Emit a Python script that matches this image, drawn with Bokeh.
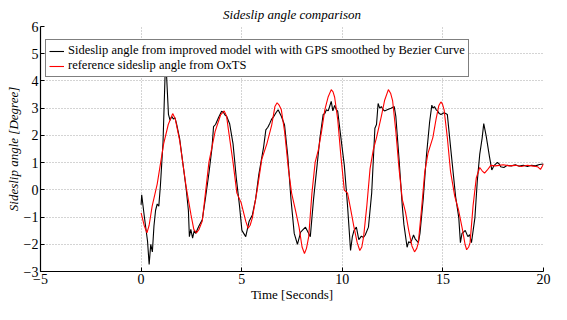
from bokeh.plotting import figure
from bokeh.models import Range1d, Legend, LegendItem, FixedTicker
from bokeh.embed import file_html
from bokeh.resources import INLINE

# ---- data ----
title_text = "Sideslip angle comparison"
x_label = "Time [Seconds]"
y_label = "Sideslip angle [Degree]"
series_names = ["Sideslip angle from improved model with with GPS smoothed by Bezier Curve",
                "reference sideslip angle from OxTS"]
x_ticks = [-5, 0, 5, 10, 15, 20]
y_ticks = [-3, -2, -1, 0, 1, 2, 3, 4, 5, 6]

black_t = [0.0, 0.03, 0.16, 0.32, 0.40, 0.48, 0.56, 0.64, 0.72, 0.80, 0.88, 0.96, 1.09, 1.22,
           1.36, 1.44, 1.52, 1.60, 1.68, 1.76, 1.92, 2.08, 2.24, 2.35, 2.40, 2.47, 2.56, 2.64,
           2.72, 2.80, 2.88, 3.04, 3.20, 3.37, 3.52, 3.60, 3.70, 3.85, 4.00, 4.09, 4.17, 4.25,
           4.40, 4.57, 4.73, 4.89, 5.01, 5.10, 5.20, 5.37, 5.53, 5.69, 5.85, 6.09, 6.20, 6.30,
           6.40, 6.49, 6.60, 6.72, 6.81, 6.97, 7.13, 7.29, 7.45, 7.61, 7.77, 7.93, 8.00, 8.17,
           8.33, 8.41, 8.57, 8.73, 8.89, 9.05, 9.13, 9.21, 9.30, 9.37, 9.45, 9.53, 9.62, 9.70,
           9.77, 9.93, 10.10, 10.26, 10.41, 10.50, 10.58, 10.70, 10.82, 10.95, 11.05, 11.14,
           11.30, 11.46, 11.62, 11.70, 11.78, 11.86, 11.94, 12.02, 12.10, 12.26, 12.42, 12.58,
           12.66, 12.82, 12.98, 13.06, 13.22, 13.30, 13.38, 13.46, 13.54, 13.62, 13.78, 13.86,
           14.02, 14.18, 14.34, 14.45, 14.50, 14.58, 14.66, 14.74, 14.82, 14.90, 15.06, 15.14,
           15.22, 15.38, 15.63, 15.79, 15.87, 15.95, 16.03, 16.11, 16.24, 16.33, 16.42, 16.59,
           16.71, 16.83, 16.95, 17.03, 17.15, 17.31, 17.43, 17.55, 17.71, 17.80, 17.87, 18.03,
           18.2, 18.4, 18.6, 18.8, 19.0, 19.2, 19.4, 19.6, 19.8, 20.0]
black_v = [-0.55, -0.18, -0.98, -1.89, -2.74, -2.0, -2.28, -1.32, -0.75, -0.52, -0.6, 0.16, 1.75, 4.9,
           2.77, 2.55, 2.7, 2.6, 2.65, 2.43, 1.86, 0.95, 0.04, -0.75, -1.72, -1.45, -1.77, -1.5,
           -1.6, -1.45, -1.32, -1.1, -0.3, 0.61, 1.52, 2.32, 2.4, 2.66, 2.89, 2.85, 2.75, 2.7,
           2.43, 1.69, 0.44, -0.58, -1.49, -1.6, -1.72, -1.15, -0.92, -0.35, 0.56, 1.58, 2.2, 2.3,
           2.45, 2.6, 2.7, 2.85, 2.94, 2.7, 2.38, 1.24, -0.35, -1.6, -2.0, -1.55, -1.5, -1.37,
           -1.6, -1.72, -0.35, 0.78, 1.92, 2.77, 2.8, 2.94, 2.9, 3.06, 3.25, 2.9, 3.1, 2.95,
           2.89, 1.92, 0.9, -0.58, -2.23, -1.72, -1.5, -1.37, -1.83, -1.7, -1.75, -1.66,
           -1.37, -0.12, 2.26, 2.4, 3.17, 3.0, 3.06, 2.95, 2.9, 2.95, 3.0, 3.06,
           2.7, 1.13, -0.58, -1.26, -2.11, -1.9, -1.95, -1.83, -1.66, -1.8, -1.94, -1.6,
           -0.35, 1.24, 2.49, 3.11, 3.0, 3.06, 2.95, 2.89, 2.8, 2.77, 2.83, 2.8,
           2.77, 1.58, -0.24, -1.03, -1.94, -1.6, -1.55, -1.49, -1.72, -1.65, -1.94, -1.03,
           0.33, 1.3, 1.9, 2.43, 1.98, 1.24, 0.73, 0.9, 1.01, 0.95, 0.85, 0.82,
           0.9, 0.88, 0.92, 0.87, 0.9, 0.86, 0.9, 0.88, 0.93, 0.95]

red_t = [0.0, 0.15, 0.29, 0.40, 0.55, 0.8, 1.12, 1.35, 1.57, 1.7, 1.92, 2.24, 2.48, 2.62, 2.75,
         2.88, 3.04, 3.37, 3.68, 3.95, 4.13, 4.25, 4.33, 4.57, 4.76, 4.97, 5.2, 5.32, 5.42, 5.53,
         5.77, 6.0, 6.25, 6.49, 6.65, 6.76, 6.87, 6.97, 7.13, 7.32, 7.48, 7.69, 7.85, 8.0, 8.12,
         8.22, 8.33, 8.49, 8.65, 8.81, 8.97, 9.13, 9.29, 9.45, 9.54, 9.62, 9.77, 9.93, 10.1,
         10.26, 10.41, 10.58, 10.74, 10.87, 10.97, 11.06, 11.22, 11.38, 11.54, 11.7, 11.94,
         12.1, 12.29, 12.4, 12.5, 12.66, 12.82, 12.98, 13.14, 13.3, 13.46, 13.59, 13.7, 13.78,
         13.94, 14.1, 14.26, 14.5, 14.66, 14.8, 14.9, 14.98, 15.06, 15.22, 15.38, 15.59, 15.78,
         15.98, 16.1, 16.18, 16.28, 16.35, 16.5, 16.66, 16.83, 16.95, 17.07, 17.2, 17.38, 17.6,
         17.8, 18.0, 18.3, 18.6, 18.9, 19.2, 19.5, 19.7, 19.85, 20.0]
red_v = [-0.85, -1.3, -1.58, -1.3, -0.6, 0.21, 1.69, 2.4, 2.8, 2.6, 1.8, 0.1, -0.92, -1.45, -1.58,
         -1.45, -1.15, 1.01, 2.15, 2.75, 2.9, 2.7, 2.26, 1.01, -0.12, -0.47, -1.15, -1.41, -1.3, -1.03,
         0.0, 1.13, 1.69, 2.38, 3.06, 3.2, 3.1, 2.94, 2.15, 0.78, -0.12, -0.81, -1.37, -2.1, -2.34,
         -2.15, -1.72, -0.12, 1.01, 1.47, 2.15, 2.94, 3.4, 3.68, 3.6, 3.4, 2.6, 1.24, -0.01,
         -0.12, -0.69, -1.37, -1.94, -2.23, -2.1, -1.72, -0.58, 0.78, 1.47, 1.92, 2.7,
         3.28, 3.68, 3.55, 3.28, 2.15, 0.78, -0.35, -0.81, -1.49, -2.06, -2.28, -2.15, -1.94,
         -0.69, 0.67, 1.35, 1.92, 2.6, 3.1, 3.23, 3.15, 2.94, 1.92, 0.67, -0.24, -0.75,
         -1.49, -2.0, -2.2, -2.1, -1.94, -0.58, 0.44, 0.82, 0.7, 0.61, 0.72, 0.9, 0.88,
         0.9, 0.92, 0.88, 0.9, 0.86, 0.9, 0.87, 0.85, 0.75, 0.95]

SERIF = "Liberation Serif"

p = figure(width=551, height=304, output_backend="svg", toolbar_location=None,
           x_range=Range1d(x_ticks[0], x_ticks[-1]), y_range=Range1d(y_ticks[0], y_ticks[-1]),
           min_border_left=40, min_border_right=8, min_border_top=25, min_border_bottom=30)
p.outline_line_color = None
p.background_fill_color = "white"
p.border_fill_color = "white"

p.title.text = title_text
p.title.align = "center"
p.title.text_font = SERIF
p.title.text_font_style = "italic"
p.title.text_font_size = "13px"
p.title.text_color = "black"
p.title.standoff = 9

for ax, ticks in ((p.xaxis[0], x_ticks), (p.yaxis[0], y_ticks)):
    ax.ticker = FixedTicker(ticks=ticks)
    ax.major_label_overrides = {t: (str(t).replace("-", "\u2212")) for t in ticks}
    ax.major_tick_in = 4
    ax.major_tick_out = 0
    ax.minor_tick_in = 0
    ax.minor_tick_out = 0
    ax.axis_line_color = "black"
    ax.axis_line_width = 1.2
    ax.major_tick_line_color = "black"
    ax.major_label_text_font = SERIF
    ax.major_label_text_font_size = "14px"
    ax.major_label_text_color = "black"
    ax.major_label_standoff = 2
    ax.axis_label_text_font = SERIF
    ax.axis_label_text_font_size = "13px"
    ax.axis_label_text_color = "black"

p.xaxis[0].axis_label = x_label
p.xaxis[0].axis_label_text_font_style = "normal"
p.xaxis[0].axis_label_standoff = 0
p.yaxis[0].axis_label = y_label
p.yaxis[0].axis_label_text_font_style = "italic"
p.yaxis[0].axis_label_standoff = 0

for g in (p.xgrid[0], p.ygrid[0]):
    g.grid_line_color = "#a8a8a8"
    g.grid_line_dash = "1 2"
    g.grid_line_width = 1

r_black = p.line(black_t, black_v, line_color="black", line_width=1.1)
r_red = p.line(red_t, red_v, line_color="red", line_width=1.1)

legend = Legend(items=[LegendItem(label=series_names[0], renderers=[r_black]),
                       LegendItem(label=series_names[1], renderers=[r_red])],
                location=(5, 194))
legend.label_text_font = SERIF
legend.label_text_font_size = "12.5px"
legend.label_text_color = "black"
legend.border_line_color = "black"
legend.border_line_width = 1
legend.background_fill_alpha = 1.0
legend.padding = 3
legend.spacing = 0
legend.margin = 0
legend.glyph_width = 15
legend.glyph_height = 14
legend.label_height = 14
legend.label_standoff = 4
p.add_layout(legend, "center")

open("out.html", "w").write(file_html(p, INLINE))
